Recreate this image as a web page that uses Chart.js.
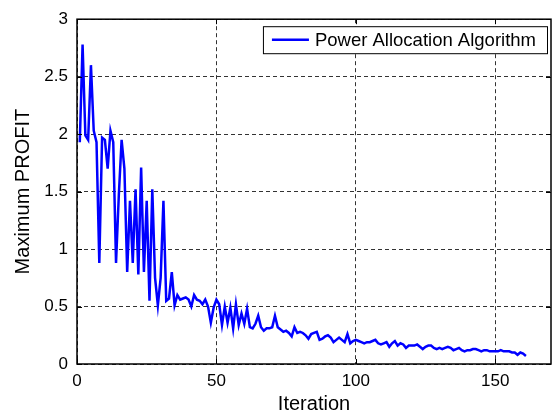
<!DOCTYPE html>
<html>
<head>
<meta charset="utf-8">
<script src="https://cdn.jsdelivr.net/npm/chart.js@4.4.0/dist/chart.umd.min.js"></script>
<style>
  html, body { margin: 0; padding: 0; background: #fff; }
  #wrap { width: 559px; height: 418px; }
</style>
</head>
<body>
<div id="wrap"><canvas id="profitChart" width="559" height="418"></canvas></div>
<script>
var seriesName = "Power Allocation Algorithm";
var profit = [
    1.93, 2.78, 1.99, 1.95, 2.60, 2.03, 1.93, 0.88, 1.97, 1.95,
    1.70, 2.03, 1.93, 0.88, 1.47, 1.95, 1.70, 0.80, 1.42, 0.88,
    1.52, 0.78, 1.71, 0.80, 1.42, 0.55, 1.52, 0.75, 0.51, 0.75,
    1.42, 0.55, 0.57, 0.80, 0.51, 0.60, 0.56, 0.57, 0.58, 0.56,
    0.50, 0.60, 0.56, 0.55, 0.52, 0.56, 0.50, 0.36, 0.49, 0.56,
    0.52, 0.34, 0.50, 0.36, 0.49, 0.31, 0.52, 0.34, 0.44, 0.35,
    0.48, 0.32, 0.31, 0.35, 0.42, 0.32, 0.29, 0.31, 0.31, 0.32,
    0.42, 0.32, 0.30, 0.28, 0.29, 0.27, 0.24, 0.32, 0.27, 0.28,
    0.27, 0.25, 0.22, 0.26, 0.27, 0.28, 0.21, 0.22, 0.24, 0.25,
    0.23, 0.19, 0.21, 0.23, 0.21, 0.19, 0.26, 0.18, 0.20, 0.21,
    0.20, 0.19, 0.18, 0.19, 0.19, 0.20, 0.21, 0.18, 0.17, 0.18,
    0.19, 0.15, 0.18, 0.20, 0.16, 0.18, 0.17, 0.14, 0.16, 0.16,
    0.16, 0.17, 0.15, 0.13, 0.15, 0.16, 0.16, 0.14, 0.13, 0.14,
    0.13, 0.14, 0.15, 0.14, 0.12, 0.13, 0.14, 0.12, 0.11, 0.12,
    0.12, 0.13, 0.13, 0.12, 0.11, 0.12, 0.12, 0.11, 0.11, 0.11,
    0.11, 0.12, 0.11, 0.11, 0.11, 0.10, 0.10, 0.08, 0.10, 0.09,
    0.07
];
var iterations = profit.map(function (v, i) { return i + 1; });
var xTicks = [0, 50, 100, 150];
var yTicks = [0, 0.5, 1, 1.5, 2, 2.5, 3];

var FONT = "'Liberation Sans', Arial, sans-serif";

// box, inward tick marks and the legend, MATLAB style
var matlabFrame = {
    id: 'matlabFrame',
    afterDatasetsDraw: function (chart) {
        var ctx = chart.ctx, a = chart.chartArea;
        var xs = chart.scales.x, ys = chart.scales.y;
        ctx.save();
        ctx.strokeStyle = '#000';
        ctx.lineWidth = 1;
        ctx.beginPath();
        xTicks.forEach(function (t) {
            var px = Math.round(xs.getPixelForValue(t)) + 0.5;
            ctx.moveTo(px, a.bottom); ctx.lineTo(px, a.bottom - 5);
            ctx.moveTo(px, a.top); ctx.lineTo(px, a.top + 5);
        });
        yTicks.forEach(function (t) {
            var py = Math.round(ys.getPixelForValue(t)) + 0.5;
            ctx.moveTo(a.left, py); ctx.lineTo(a.left + 5, py);
            ctx.moveTo(a.right, py); ctx.lineTo(a.right - 5, py);
        });
        ctx.stroke();
        ctx.lineWidth = 1.5;
        ctx.strokeRect(a.left, a.top, a.right - a.left, a.bottom - a.top);

        // legend
        ctx.font = '18.5px ' + FONT;
        var tw = ctx.measureText(seriesName).width;
        var bw = tw + 63, bh = 27;
        var bx = a.right - 4 - bw, by = a.top + 7;
        ctx.fillStyle = '#fff';
        ctx.fillRect(bx, by, bw, bh);
        ctx.lineWidth = 1;
        ctx.strokeRect(bx + 0.5, by + 0.5, bw, bh);
        ctx.strokeStyle = '#0000ff';
        ctx.lineWidth = 2.5;
        ctx.beginPath();
        ctx.moveTo(bx + 9, by + bh / 2);
        ctx.lineTo(bx + 46, by + bh / 2);
        ctx.stroke();
        ctx.fillStyle = '#000';
        ctx.textBaseline = 'middle';
        ctx.fillText(seriesName, bx + 52, by + bh / 2 + 1);
        ctx.restore();
    }
};

var ctx = document.getElementById('profitChart').getContext('2d');
var chartData = {
    type: 'line',
    data: {
        datasets: [{
            label: seriesName,
            data: iterations.map(function (x, i) { return { x: x, y: profit[i] }; }),
            borderColor: '#0000ff',
            borderWidth: 2.5,
            pointRadius: 0,
            tension: 0,
            fill: false
        }]
    },
    options: {
        responsive: false,
        animation: false,
        devicePixelRatio: 1,
        layout: { padding: { left: 0, right: 8, top: 16, bottom: 0 } },
        plugins: {
            legend: { display: false },
            tooltip: { enabled: false }
        },
        scales: {
            x: {
                type: 'linear',
                min: 0,
                max: 170,
                afterBuildTicks: function (s) { s.ticks = xTicks.map(function (v) { return { value: v }; }); },
                afterFit: function (s) { s.height = 54; },
                grid: { color: '#333', lineWidth: 1, drawTicks: false },
                border: { display: false, dash: [4, 3] },
                ticks: { color: '#000', padding: 7, maxRotation: 0, font: { size: 17, family: FONT },
                         callback: function (v) { return String(v); } },
                title: { display: true, text: 'Iteration', color: '#000', padding: 2, font: { size: 20, family: FONT } }
            },
            y: {
                min: 0,
                max: 3,
                afterBuildTicks: function (s) { s.ticks = yTicks.map(function (v) { return { value: v }; }); },
                afterFit: function (s) { s.width = 77; },
                grid: { color: '#333', lineWidth: 1, drawTicks: false },
                border: { display: false, dash: [4, 3] },
                ticks: { color: '#000', padding: 9, font: { size: 17, family: FONT },
                         callback: function (v) { return String(v); } },
                title: { display: true, text: 'Maximum PROFIT', color: '#000', padding: 11, font: { size: 20, family: FONT } }
            }
        }
    },
    plugins: [matlabFrame]
};

var profitChart = new Chart(ctx, chartData);
</script>
</body>
</html>
